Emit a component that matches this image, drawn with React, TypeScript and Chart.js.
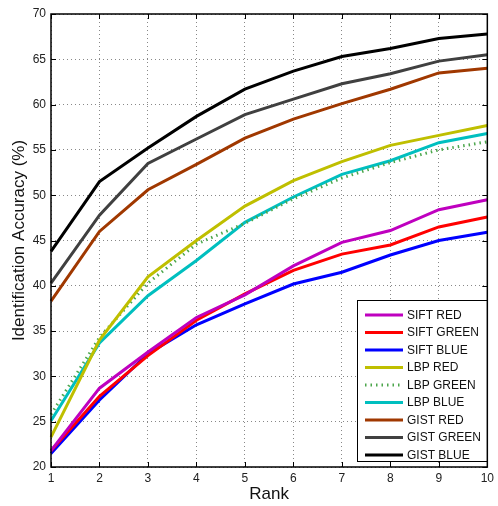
import React, { useEffect, useRef } from "react";
import { Chart, registerables } from "chart.js";

Chart.register(...registerables);

const ranks = ["1", "2", "3", "4", "5", "6", "7", "8", "9", "10"];
const siftRed = [21.8, 28.7, 32.7, 36.5, 39.0, 42.2, 44.8, 46.1, 48.4, 49.5];
const siftGreen = [21.8, 27.8, 32.3, 36.2, 39.1, 41.7, 43.5, 44.5, 46.5, 47.6];
const siftBlue = [21.5, 27.4, 32.5, 35.7, 38.0, 40.2, 41.5, 43.4, 45.0, 45.9];
const lbpRed = [23.3, 34.0, 41.0, 45.0, 48.8, 51.6, 53.7, 55.5, 56.6, 57.7];
const lbpGreen = [25.8, 34.3, 40.3, 44.6, 46.9, 49.6, 51.9, 53.6, 55.0, 55.9];
const lbpBlue = [25.1, 33.7, 38.9, 42.8, 47.0, 49.8, 52.3, 53.8, 55.8, 56.8];
const gistRed = [38.3, 46.0, 50.6, 53.4, 56.3, 58.4, 60.1, 61.7, 63.5, 64.0];
const gistGreen = [40.3, 47.8, 53.5, 56.2, 58.9, 60.6, 62.3, 63.4, 64.8, 65.5];
const gistBlue = [43.8, 51.5, 55.2, 58.7, 61.7, 63.7, 65.3, 66.2, 67.3, 67.8];

const seriesNames = [
  "SIFT RED", "SIFT GREEN", "SIFT BLUE",
  "LBP RED", "LBP GREEN", "LBP BLUE",
  "GIST RED", "GIST GREEN", "GIST BLUE",
];
const seriesData = [siftRed, siftGreen, siftBlue, lbpRed, lbpGreen, lbpBlue, gistRed, gistGreen, gistBlue];
const seriesColors = [
  "#bf00bf", "#ff0000", "#0000ff",
  "#bfbf00", "#4ca64c", "#00bfbf",
  "#a03800", "#404040", "#000000",
];

const FONT = "'Liberation Sans', Arial, sans-serif";

const framePlugin = {
  id: "frame",
  afterDraw(chart: any) {
    const { ctx, chartArea: a, scales } = chart;
    ctx.save();
    ctx.strokeStyle = "#000";
    ctx.lineWidth = 1;
    ctx.setLineDash([]);
    const xs = scales.x;
    const ys = scales.y;
    for (let i = 0; i < ranks.length; i++) {
      const px = Math.round(xs.getPixelForValue(i)) + 0.5;
      ctx.beginPath();
      ctx.moveTo(px, a.bottom);
      ctx.lineTo(px, a.bottom - 5);
      ctx.moveTo(px, a.top);
      ctx.lineTo(px, a.top + 5);
      ctx.stroke();
    }
    for (let v = 20; v <= 70; v += 5) {
      const py = Math.round(ys.getPixelForValue(v)) + 0.5;
      ctx.beginPath();
      ctx.moveTo(a.left, py);
      ctx.lineTo(a.left + 5, py);
      ctx.moveTo(a.right, py);
      ctx.lineTo(a.right - 5, py);
      ctx.stroke();
    }
    // legend box
    const bx = 357, by = 300, bw = 130, bh = 161;
    ctx.fillStyle = "#fff";
    ctx.fillRect(bx, by, bw, bh);
    ctx.strokeStyle = "#000";
    ctx.lineWidth = 1;
    ctx.strokeRect(bx + 0.5, by + 0.5, bw, bh);
    ctx.font = `12px ${FONT}`;
    ctx.textBaseline = "middle";
    ctx.textAlign = "left";
    const rowH = 17.5;
    for (let i = 0; i < seriesNames.length; i++) {
      const cy = by + 15 + i * rowH;
      ctx.beginPath();
      ctx.strokeStyle = seriesColors[i];
      ctx.lineWidth = 3;
      ctx.setLineDash(i === 4 ? [1.5, 4] : []);
      ctx.moveTo(bx + 8, cy);
      ctx.lineTo(bx + 46, cy);
      ctx.stroke();
      ctx.setLineDash([]);
      ctx.fillStyle = "#111";
      ctx.fillText(seriesNames[i], bx + 50, cy + 0.5);
    }
    ctx.strokeStyle = "#000";
    ctx.lineWidth = 1.5;
    ctx.strokeRect(a.left, a.top, a.right - a.left, a.bottom - a.top);
    ctx.restore();
  },
};

export default function App() {
  const ref = useRef<HTMLCanvasElement | null>(null);
  useEffect(() => {
    document.body.style.margin = "0";
    const canvas = ref.current;
    if (!canvas) return;
    const chart = new Chart(canvas, {
      type: "line",
      data: {
        labels: ranks,
        datasets: seriesNames.map((name, i) => ({
          label: name,
          data: seriesData[i],
          borderColor: seriesColors[i],
          backgroundColor: seriesColors[i],
          borderWidth: 3,
          borderDash: i === 4 ? [1.5, 4] : [],
          pointRadius: 0,
          tension: 0,
          fill: false,
        })),
      },
      options: {
        animation: false,
        responsive: false,
        maintainAspectRatio: false,
        layout: { padding: { top: 14, right: 8, left: 0, bottom: 0 } },
        plugins: {
          legend: { display: false },
          tooltip: { enabled: false },
        },
        scales: {
          x: {
            type: "category",
            offset: false,
            grid: { color: "#888", lineWidth: 1, drawTicks: false },
            border: { display: false, dash: [1, 3] },
            ticks: {
              color: "#222",
              font: { family: FONT, size: 12 },
              padding: 4,
              maxRotation: 0,
              autoSkip: false,
            },
            title: {
              display: true,
              text: "Rank",
              color: "#111",
              font: { family: FONT, size: 17 },
              padding: { top: 0, bottom: 1 },
            },
            afterFit(scale: any) {
              scale.height = 39;
            },
          },
          y: {
            min: 20,
            max: 70,
            grid: { color: "#888", lineWidth: 1, drawTicks: false },
            border: { display: false, dash: [1, 3] },
            ticks: {
              stepSize: 5,
              color: "#222",
              font: { family: FONT, size: 12 },
              padding: 5,
            },
            title: {
              display: true,
              text: "Identification Accuracy (%)",
              color: "#111",
              font: { family: FONT, size: 17 },
              padding: { top: 9, bottom: 2 },
            },
            afterFit(scale: any) {
              scale.width = 51;
            },
          },
        },
      },
      plugins: [framePlugin],
    });
    return () => chart.destroy();
  }, []);
  return (
    <div style={{ width: 498, height: 506 }}>
      <canvas ref={ref} width={498} height={506} style={{ display: "block" }} />
    </div>
  );
}
